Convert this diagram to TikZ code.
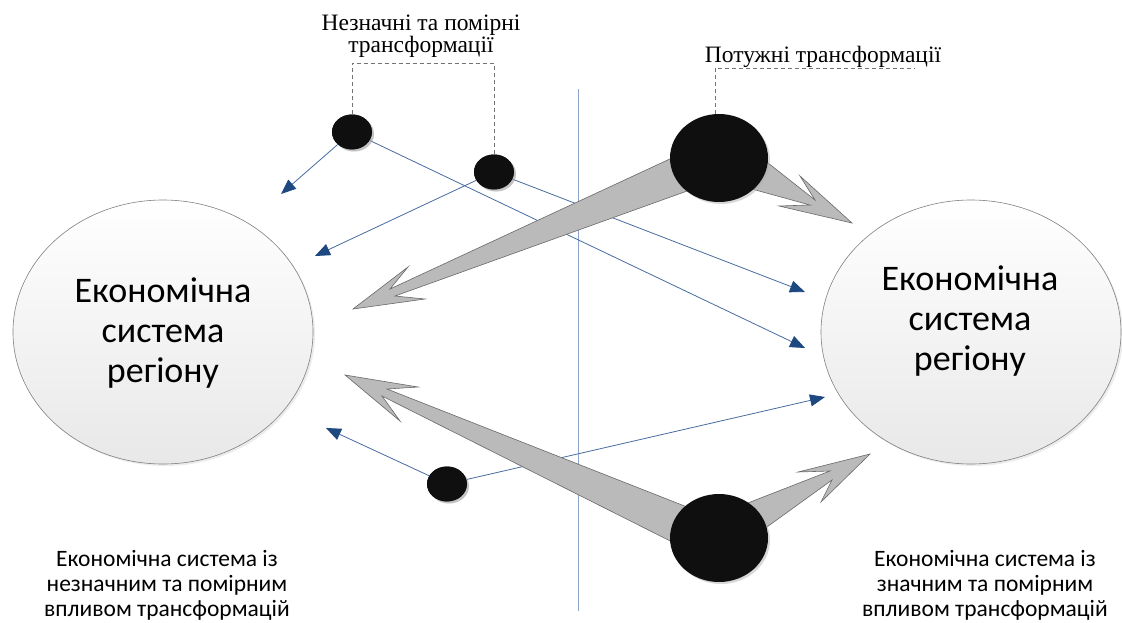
\documentclass[tikz,border=0pt]{standalone}
\usepackage{fontspec}
\setmainfont{Carlito}
\newfontfamily\serifcyr{Liberation Serif}
\usetikzlibrary{shapes.geometric,arrows.meta,shadows}
\definecolor{bline}{RGB}{72,108,160}
\definecolor{bhead}{RGB}{30,72,128}
\definecolor{vcol}{RGB}{140,165,200}
\definecolor{garrow}{RGB}{186,186,186}
\definecolor{gedge}{RGB}{105,105,105}
\begin{document}
\begin{tikzpicture}[x=1pt,y=-1pt,
  sysell/.style={ellipse, draw=black!50, line width=0.6pt, top color=white, bottom color=black!9,
    minimum width=300pt, minimum height=264pt, inner sep=0pt,
    drop shadow={shadow xshift=2pt, shadow yshift=-2pt, opacity=0.15}},
  elltext/.style={align=center, inner sep=0pt, font=\fontsize{36}{40}\selectfont},
  blackdot/.style={ellipse, fill=black!94, draw=none, inner sep=0pt,
    drop shadow={shadow xshift=2pt, shadow yshift=-2pt, fill=black!30, opacity=0.5}},
  smalldot/.style={blackdot, minimum width=40pt, minimum height=35pt},
  bigdot/.style={blackdot, minimum width=98pt, minimum height=88pt},
  barrow/.style={draw=bline, line width=0.8pt, -{Triangle[length=15pt,width=12pt,color=bhead]}},
  dashline/.style={draw=black!55, line width=0.7pt, dash pattern=on 4pt off 3pt},
  garrowst/.style={fill=garrow, draw=gedge, line width=0.6pt, line join=miter},
  toplabel/.style={font=\serifcyr\fontsize{23.5}{22}\selectfont, align=center, inner sep=0pt},
  botlabel/.style={font=\fontsize{23.5}{25}\selectfont, align=center, inner sep=0pt}
]
\fill[white] (0,0) rectangle (1122,622);
\useasboundingbox (0,0) rectangle (1122,622);

% vertical divider
\coordinate (vtop) at (578,89);
\coordinate (vbot) at (578,611);
\draw[vcol, line width=0.8pt] (vtop) -- (vbot);

% system ellipses
\node[sysell] (L) at (163,332) {};
\node[sysell] (R) at (971,332) {};
\node[elltext] (Lt) at (163,333) {Економічна\\система\\регіону};
\node[elltext] (Rt) at (970,321) {Економічна\\система\\регіону};

% free ends of thin arrows
\coordinate (t1) at (281,194);
\coordinate (t2) at (805,348);
\coordinate (t3) at (315,256);
\coordinate (t4) at (805,292);
\coordinate (t5) at (326,428);
\coordinate (t6) at (825,397);

% small dots (positions) for arrow starts
\path (352,132) node[smalldot] (s1) {};
\path (494,172) node[smalldot] (s2) {};
\path (447,484) node[smalldot] (s3) {};

\draw[barrow] (s1) -- (t1);
\draw[barrow] (s1) -- (t2);
\draw[barrow] (s2) -- (t3);
\draw[barrow] (s2) -- (t4);
\draw[barrow] (s3) -- (t5);
\draw[barrow] (s3) -- (t6);

% big gray arrows
\draw[garrowst] (353,309) -- (408,267) -- (390,289) -- (715,138) -- (715,181) -- (395,296) -- (425,299) -- cycle;
\draw[garrowst] (852,223) -- (800,176) -- (815,200) -- (730,133) -- (730,183) -- (810,205) -- (779,206) -- cycle;
\draw[garrowst] (345,375) -- (418,387) -- (387,389) -- (710,516) -- (710,561) -- (382,396) -- (400,421) -- cycle;
\draw[garrowst] (870,454) -- (798,472) -- (830,471) -- (735,508) -- (735,550) -- (832,480) -- (821,502) -- cycle;

% dots on top
\node[smalldot] (s1b) at (352,132) {};
\node[smalldot] (s2b) at (494,172) {};
\node[smalldot] (s3b) at (447,484) {};
\node[bigdot] (B1) at (719,158) {};
\node[bigdot] (B2) at (719,538) {};

% top labels and dashed leaders
\node[toplabel, anchor=base] (lab1) at (421,52) {Незначні та помірні\\трансформації};
\coordinate (brL) at (352,63);
\draw[dashline] (s1b.north) -- (brL) -| (s2b.north);
\node[toplabel, anchor=base] (lab2) at (823,62) {Потужні трансформації};
\coordinate (ldA) at (715,68);
\coordinate (ldB) at (915,68);
\draw[dashline] (B1.north -| ldA) -- (ldA) -- (ldB);

% bottom labels
\node[botlabel] (bl) at (167,585) {Економічна система із\\незначним та помірним\\впливом трансформацій};
\node[botlabel] (br) at (985,585) {Економічна система із\\значним та помірним\\впливом трансформацій};
\end{tikzpicture}
\end{document}
